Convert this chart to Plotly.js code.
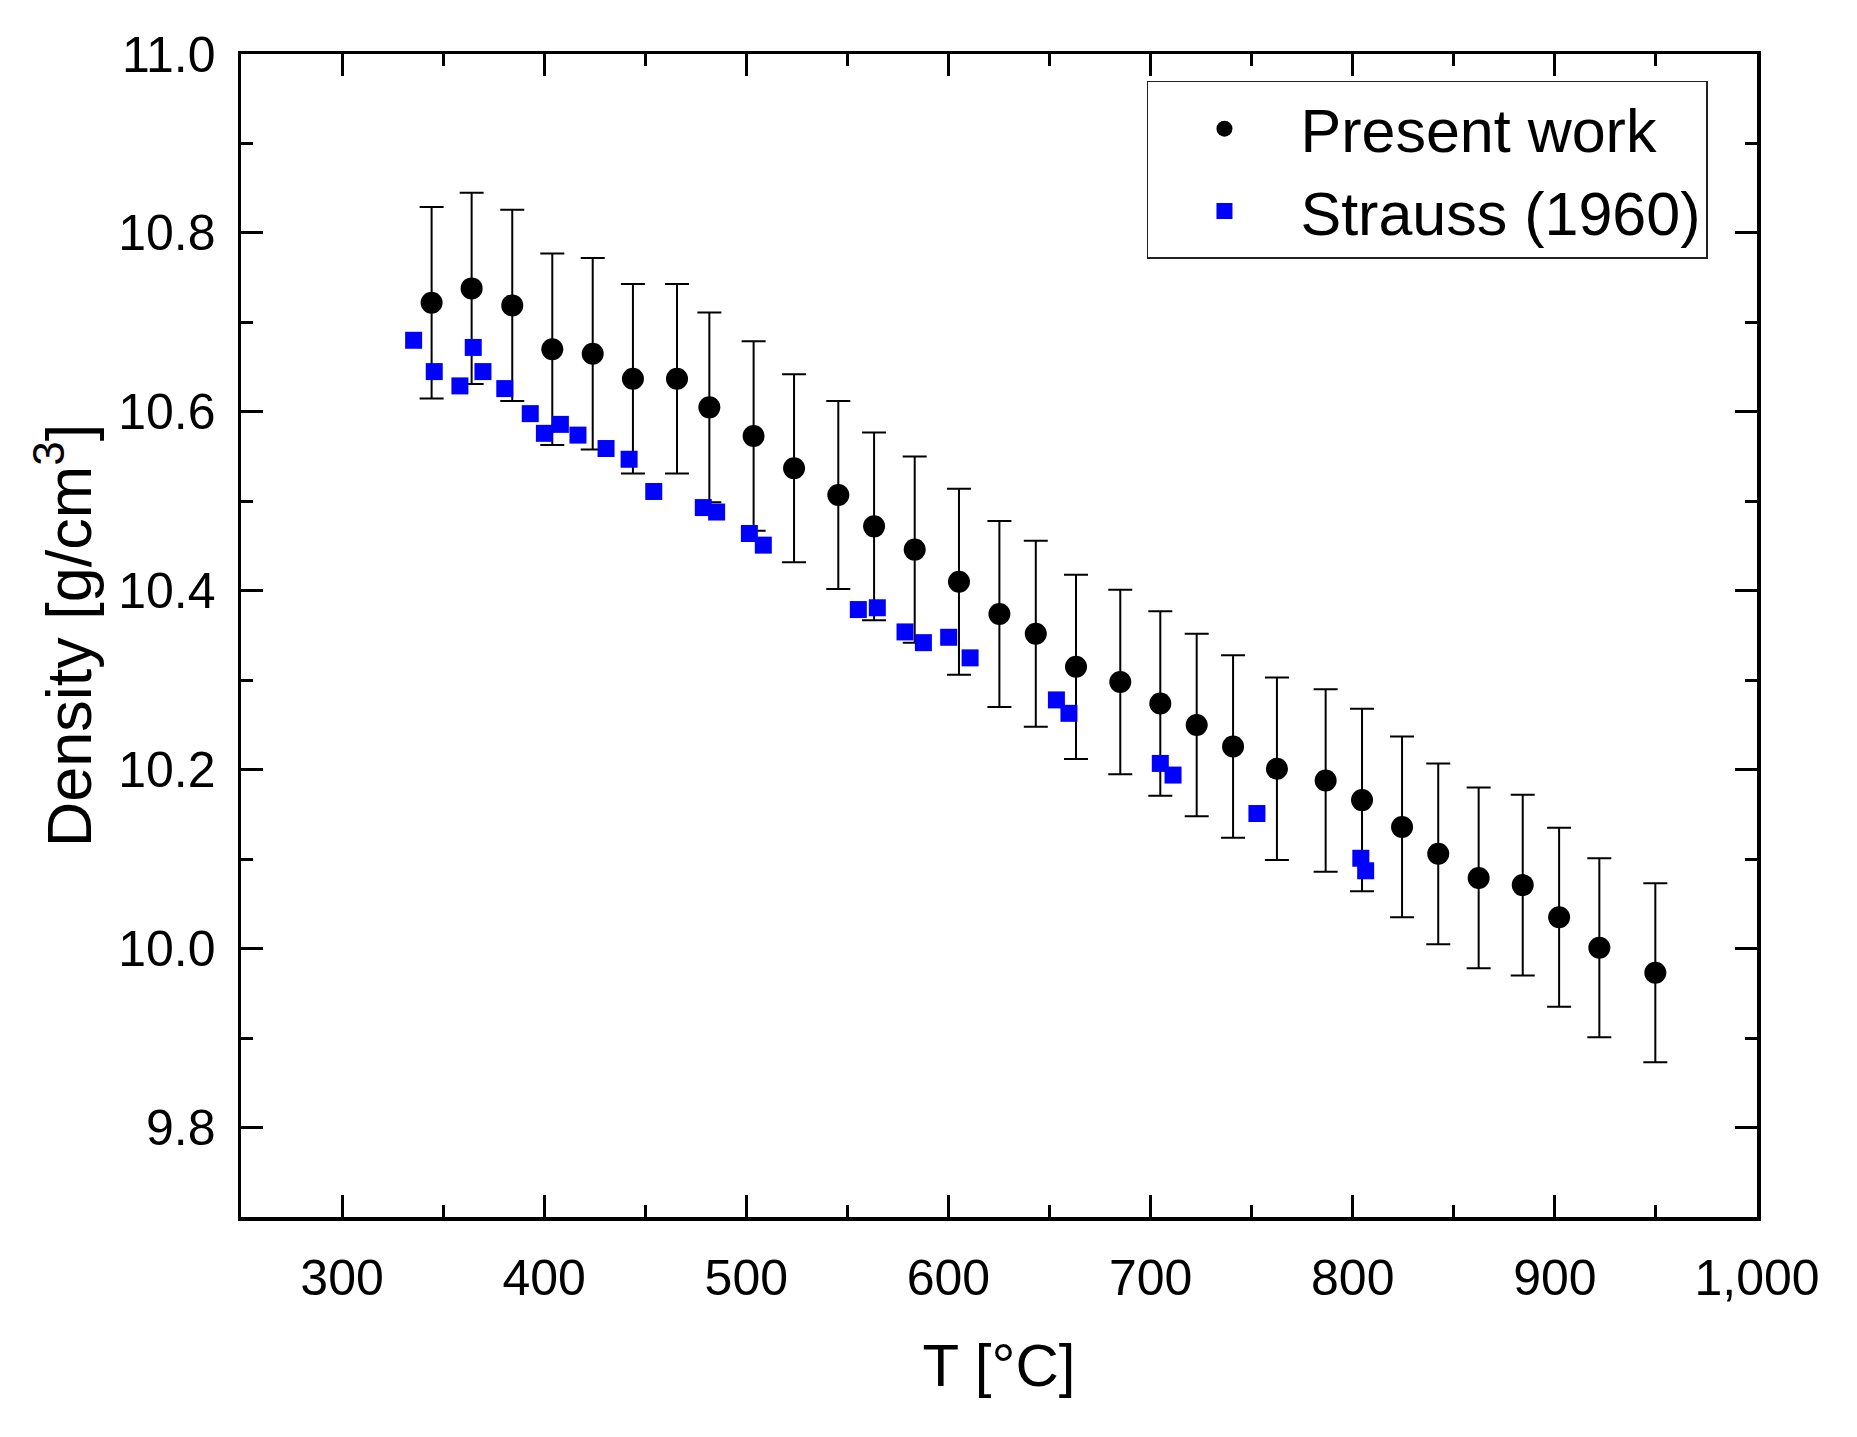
<!DOCTYPE html>
<html>
<head>
<meta charset="utf-8">
<script src="https://cdn.plot.ly/plotly-3.0.1.min.js"></script>
<style>
  html, body { margin: 0; padding: 0; background: #fff; }
  #chart { width: 1857px; height: 1437px; }
</style>
</head>
<body>
<div id="chart"></div>
<script>
// Density vs temperature — present work (with error bars) against Strauss (1960).

const presentT = [344.3, 364.1, 384.2, 404.0, 424.0, 443.9, 465.7, 481.7, 503.6, 523.6,
  545.5, 563.2, 583.3, 605.2, 625.2, 643.2, 663.1, 685.0, 704.8, 722.8,
  740.8, 762.5, 786.6, 804.6, 824.4, 842.3, 862.3, 884.1, 902.1, 922.0, 949.7];
const presentRho = [10.722, 10.738, 10.719, 10.670, 10.665, 10.637, 10.637, 10.605, 10.573, 10.537,
  10.507, 10.472, 10.446, 10.410, 10.374, 10.352, 10.315, 10.298, 10.274, 10.250,
  10.226, 10.201, 10.188, 10.166, 10.136, 10.106, 10.079, 10.071, 10.035, 10.001, 9.973];
const presentErr = [0.107, 0.107, 0.107, 0.107, 0.107, 0.106, 0.106, 0.106, 0.106, 0.105,
  0.105, 0.105, 0.104, 0.104, 0.104, 0.104, 0.103, 0.103, 0.103, 0.102,
  0.102, 0.102, 0.102, 0.102, 0.101, 0.101, 0.101, 0.101, 0.100, 0.100, 0.100];

const straussT = [335.4, 345.6, 358.3, 364.9, 369.7, 380.5, 393.1, 400.1, 408.0, 416.7,
  430.6, 442.0, 454.2, 478.7, 485.3, 501.5, 508.4, 555.4, 564.8, 578.5,
  587.6, 600.1, 610.7, 653.4, 659.6, 704.8, 711.1, 752.6, 804.0, 806.4];
const straussRho = [10.680, 10.645, 10.629, 10.672, 10.645, 10.626, 10.598, 10.576, 10.586, 10.574,
  10.559, 10.547, 10.511, 10.493, 10.488, 10.464, 10.451, 10.379, 10.381, 10.354,
  10.342, 10.348, 10.325, 10.278, 10.263, 10.207, 10.194, 10.151, 10.101, 10.087];

const FONT = "Arial, 'Liberation Sans', sans-serif";
const INK = "#000000";

const traces = [
  {
    x: presentT, y: presentRho, name: "Present work",
    type: "scatter", mode: "markers",
    marker: { symbol: "circle", size: 22, color: INK },
    error_y: { type: "data", array: presentErr, visible: true, color: INK, thickness: 2, width: 12 },
  },
  {
    x: straussT, y: straussRho, name: "Strauss (1960)",
    type: "scatter", mode: "markers",
    marker: { symbol: "square", size: 17, color: "#0000ff" },
  },
];

// shared frame: inside ticks, mirrored on all four sides, minor ticks between
const frame = {
  showline: true, linecolor: INK, linewidth: 3.5, mirror: "allticks",
  ticks: "inside", ticklen: 22, tickwidth: 3, tickcolor: INK,
  showgrid: false, zeroline: false,
  tickfont: { family: FONT, size: 50, color: INK },
};

const layout = {
  width: 1857, height: 1437,
  paper_bgcolor: "#fff", plot_bgcolor: "#fff",
  margin: { l: 241, r: 100, t: 54, b: 220 },
  font: { family: FONT, color: INK },
  showlegend: true,
  legend: {
    x: 0.5976, y: 0.9768, xanchor: "left", yanchor: "top",
    bgcolor: "#fff", bordercolor: "#222", borderwidth: 1.5,
    font: { family: FONT, size: 61, color: INK },
    itemwidth: 142, tracegroupgap: 0,
  },
  xaxis: {
    ...frame,
    range: [250, 1000], tick0: 0, dtick: 100, tickformat: ",d",
    minor: { ticks: "inside", ticklen: 12, tickwidth: 3, tickcolor: INK, dtick: 50, tick0: 0 },
    ticklabelstandoff: 14,
    title: { text: "T [°C]", font: { family: FONT, size: 60, color: INK }, standoff: 40 },
  },
  yaxis: {
    ...frame,
    range: [9.7, 11.0], tick0: 0, dtick: 0.2, tickformat: ".1f",
    minor: { ticks: "inside", ticklen: 12, tickwidth: 3, tickcolor: INK, dtick: 0.1, tick0: 0 },
    ticklabelstandoff: 12,
    title: { text: "Density [g/cm<sup>3</sup>]", font: { family: FONT, size: 63, color: INK }, standoff: 7 },
  },
};

Plotly.newPlot("chart", traces, layout, { displayModeBar: false, staticPlot: true });
</script>
</body>
</html>
